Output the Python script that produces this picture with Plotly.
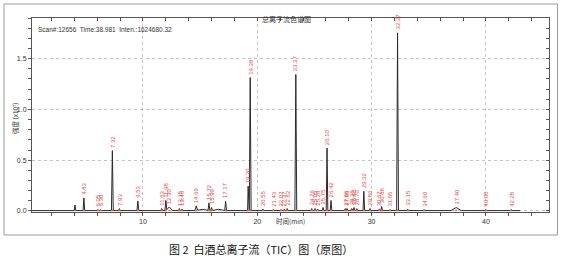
import plotly.graph_objects as go

# ---- data ----
peak_rt = [4.05, 4.83, 6.05, 6.30, 7.32, 7.93, 9.55, 11.63, 12.00, 12.30, 13.18, 13.40,
           14.66, 15.20, 15.77, 16.00, 16.60, 17.23, 19.20, 19.38, 20.50, 21.40, 22.07,
           22.37, 22.62, 23.37, 24.76, 25.05, 25.28, 25.75, 26.10, 26.45, 27.70, 27.85,
           28.26, 28.46, 28.70, 29.32, 29.86, 30.67, 30.88, 31.61, 32.27, 33.16, 34.60,
           37.40, 40.00, 42.22]
peak_h = [0.055, 0.125, 0.010, 0.010, 0.590, 0.020, 0.095, 0.020, 0.100, 0.035, 0.020, 0.015,
          0.045, 0.012, 0.075, 0.030, 0.012, 0.090, 0.240, 1.310, 0.015, 0.010, 0.010,
          0.015, 0.020, 1.340, 0.020, 0.020, 0.015, 0.030, 0.615, 0.100, 0.020, 0.020,
          0.020, 0.030, 0.020, 0.190, 0.020, 0.015, 0.040, 0.010, 1.750, 0.015, 0.010,
          0.030, 0.010, 0.010]
peak_w = [0.07, 0.07, 0.07, 0.07, 0.08, 0.07, 0.08, 0.07, 0.08, 0.30, 0.07, 0.07,
          0.12, 0.60, 0.08, 0.07, 0.60, 0.08, 0.05, 0.08, 0.07, 0.07, 0.07,
          0.07, 0.07, 0.08, 0.07, 0.07, 0.07, 0.07, 0.07, 0.07, 0.07, 0.07,
          0.07, 0.07, 0.07, 0.07, 0.07, 0.07, 0.07, 0.07, 0.08, 0.07, 0.07,
          0.45, 0.07, 0.07]
peak_label = [None, "4.83", "6.05", "6.30", "7.32", "7.93", "9.53", "11.63", "11.98", "12.30",
              "13.15", "13.46", "14.69", None, "15.72", "15.99", None, "17.17", "19.20",
              "19.38", "20.55", "21.43", "22.07", "22.37", "22.62", "23.37", "24.76",
              "25.05", "25.28", "25.75", "26.10", "26.42", "27.66", "27.86", "28.26",
              "28.46", "28.70", "29.32", "29.86", "30.67", "30.88", "31.65", "32.27",
              "33.15", "34.60", "37.40", "40.00", "42.28"]
baseline = 0.004
trace_start, trace_end = 0.3, 43.0

x_ticks = [10, 20, 30, 40]
y_ticks = [0.0, 0.5, 1.0, 1.5]

# ---- build the piecewise-linear trace from the peak table ----
bps = {trace_start, trace_end}
for t, w in zip(peak_rt, peak_w):
    bps.update([t - w, t, t + w])
xs = sorted(bps)
ys = []
for x in xs:
    v = baseline
    for t, h, w in zip(peak_rt, peak_h, peak_w):
        d = abs(x - t)
        if d < w:
            v += h * (1 - d / w)
    ys.append(v)

L, R, T, B = 32, 13, 18, 57
W, H = 562, 269
pw, ph = W - L - R, H - T - B
def px(xp): return (xp - L) / pw
def py(yp): return (H - B - yp) / ph

fig = go.Figure()
fig.add_trace(go.Scatter(x=xs, y=ys, mode="lines", line=dict(color="#2a2a2a", width=1),
                         hoverinfo="skip", showlegend=False))
lab_x = [t for t, l in zip(peak_rt, peak_label) if l]
fig.add_trace(go.Scatter(x=lab_x, y=[baseline] * len(lab_x), mode="markers",
                         marker=dict(symbol="triangle-up", size=2.5, color="#e86060"),
                         hoverinfo="skip", showlegend=False))
# invisible trace for the mirror axes
fig.add_trace(go.Scatter(x=[1], y=[0], xaxis="x2", yaxis="y2", mode="markers",
                         marker=dict(opacity=0), hoverinfo="skip", showlegend=False))

for t, h, l in zip(peak_rt, peak_h, peak_label):
    if not l:
        continue
    fig.add_annotation(x=t, y=h + baseline, text=l, textangle=-90, showarrow=False,
                       xanchor="center", yanchor="bottom", yshift=1,
                       font=dict(size=6, color="#e34a4a", family="Liberation Sans"))

xr = [0.29, 45.52]
yr = [-0.01, 1.9]
common = dict(showline=True, linecolor="#555", linewidth=1, zeroline=False)
fig.update_layout(
    width=W, height=H, margin=dict(l=L, r=R, t=T, b=B),
    paper_bgcolor="white", plot_bgcolor="white",
    font=dict(family="Liberation Sans", size=7, color="#333"),
    xaxis=dict(range=xr, tickvals=x_ticks, ticks="outside", ticklen=3, tickcolor="#555",
               showgrid=True, gridcolor="#c4c4c4", griddash="dot", gridwidth=1,
               minor=dict(dtick=2, tick0=0, ticks="outside", ticklen=3, tickcolor="#555",
                          showgrid=False),
               tickfont=dict(size=7, color="#333"), **common),
    yaxis=dict(range=yr, tickvals=y_ticks, ticktext=[f"{v:.1f}" for v in y_ticks],
               ticks="outside", ticklen=3, tickcolor="#555",
               showgrid=True, gridcolor="#c4c4c4", griddash="dot", gridwidth=1,
               minor=dict(dtick=0.1, tick0=0, ticks="outside", ticklen=3, tickcolor="#555",
                          showgrid=False),
               tickfont=dict(size=7, color="#333"), **common),
    xaxis2=dict(range=xr, overlaying="x", side="top", showticklabels=False, showgrid=False,
                ticks="inside", ticklen=3, tickcolor="#555", dtick=2, tick0=0, **common),
    yaxis2=dict(range=yr, overlaying="y", side="right", showticklabels=False, showgrid=False,
                ticks="inside", ticklen=3, tickcolor="#555", dtick=0.1, tick0=0, **common),
)

# outer frame
fig.add_shape(type="rect", xref="paper", yref="paper",
              x0=px(4), x1=px(557.5), y0=py(235), y1=py(4),
              line=dict(color="#9a9a9a", width=1))

fig.add_annotation(xref="paper", yref="paper", x=px(286), y=py(12), text="总离子流色谱图",
                   showarrow=False, font=dict(size=7, color="#333", family="Noto Sans CJK SC"))
fig.add_annotation(xref="paper", yref="paper", x=px(36), y=py(24), xanchor="left",
                   text="Scan#:12656  Time:38.981  Inten.:1624680.32", showarrow=False,
                   font=dict(size=6.5, color="#333"))
fig.add_annotation(xref="paper", yref="paper", x=px(290), y=py(228), text="时间(min)",
                   showarrow=False, font=dict(size=6.5, color="#333", family="Noto Sans CJK SC"))
fig.add_annotation(xref="paper", yref="paper", x=px(8), y=py(118), text="强度 (x10⁷)",
                   textangle=-90, showarrow=False,
                   font=dict(size=6.5, color="#333", family="Noto Sans CJK SC"))
fig.add_annotation(xref="paper", yref="paper", x=px(261), y=py(259),
                   text="图 2  白酒总离子流（TIC）图（原图）", showarrow=False,
                   font=dict(size=11, color="#111", family="Noto Sans CJK SC"))

fig.write_html("out.html")
